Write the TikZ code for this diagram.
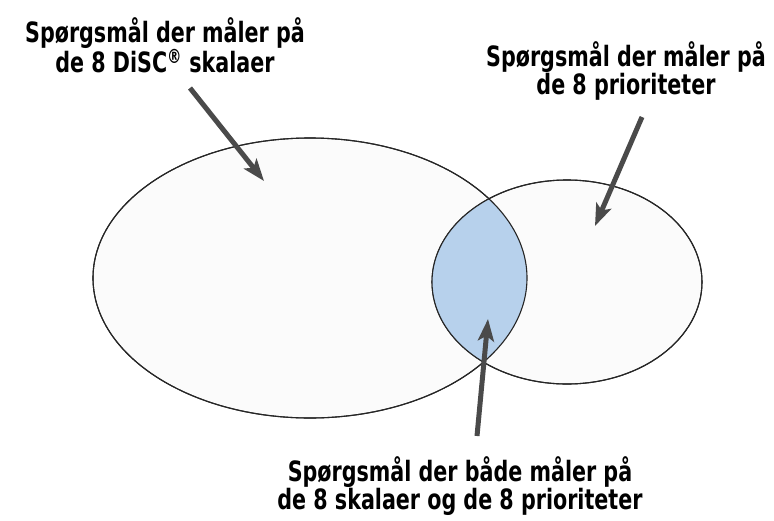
\documentclass[tikz,border=0pt]{standalone}
\usepackage{fontspec}
\usepackage{xcolor}
\usepackage{tikz}
\usetikzlibrary{arrows.meta,shapes.geometric,positioning}
\newfontfamily\calloutfont[FakeStretch=0.82]{DejaVu Sans Condensed Bold}
\definecolor{lensblue}{HTML}{B7D1EC}
\definecolor{paper}{HTML}{FBFBFB}
\definecolor{pointergray}{HTML}{4A4A4A}
\tikzset{
  blob/.style={draw=black!85, line width=1.1pt, fill=paper},
  callout/.style={align=center, font=\calloutfont\fontsize{28}{27}\selectfont,
                  inner sep=0pt, text=black},
  pointer/.style={draw=black!75, line width=5pt, pointergray,
                  -{Stealth[length=22pt,width=16pt,inset=5pt]}},
}

\begin{document}
\begin{tikzpicture}[x=1pt, y=-1pt]
  \useasboundingbox (0,0) rectangle (774,520);

  % the two sets
  \path[blob] (310,278) ellipse (217 and 140);
  \path[blob] (567,282) ellipse (135 and 102);
  \begin{scope}
    \clip (310,278) ellipse (217 and 140);
    \fill[lensblue] (567,282) ellipse (135 and 102);
  \end{scope}
  \draw[black!85, line width=1.1pt] (310,278) ellipse (217 and 140);
  \draw[black!85, line width=1.1pt] (567,282) ellipse (135 and 102);

  % labels
  \node[callout] (disc) at (165,45) {Spørgsmål der måler på\\de 8 DiSC\textsuperscript{®} skalaer};
  \node[callout] (prio) at (626,71) {Spørgsmål der måler på\\de 8 prioriteter};
  \node[callout] (both) at (460,486) {Spørgsmål der både måler på\\de 8 skalaer og de 8 prioriteter};

  % arrow ends
  \coordinate (discTail) at (190,88);
  \coordinate (discTip) at (264,181);
  \coordinate (prioTail) at (642,117);
  \coordinate (prioTip) at (595,226);
  \coordinate (bothTail) at (477,436);
  \coordinate (bothTip) at (488,319);
  \draw[pointer] (discTail) -- (discTip);
  \draw[pointer] (prioTail) -- (prioTip);
  \draw[pointer] (bothTail) -- (bothTip);
\end{tikzpicture}
\end{document}
